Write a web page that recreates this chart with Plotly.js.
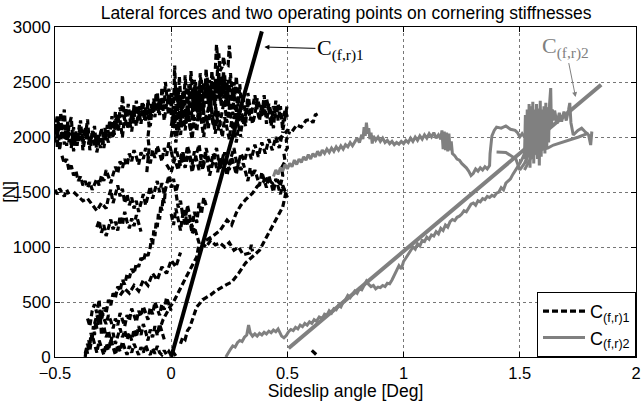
<!DOCTYPE html>
<html><head><meta charset="utf-8">
<script src="https://cdn.plot.ly/plotly-3.0.1.min.js"></script>
<style>html,body{margin:0;padding:0;background:#fff}#chart{width:641px;height:401px}</style>
</head><body><div id="chart"></div>
<script>
// ---------- data ----------
const xTicks = [-0.5, 0, 0.5, 1, 1.5, 2];
const xTickText = ['\u22120.5', '0', '0.5', '1', '1.5', '2'];
const yTicks = [0, 500, 1000, 1500, 2000, 2500, 3000];
const seriesNames = ["C<sub>(f,r)1</sub>", "C<sub>(f,r)2</sub>"];

// C(f,r)1 measured lateral force (black dashed) – several passes
const c1TopLeft = [[-0.5,1950],[-0.495,2120],[-0.49,1900],[-0.485,2180],[-0.48,2050],[-0.475,2220],[-0.47,1980],[-0.465,2100],[-0.46,1930],[-0.455,2060],[-0.45,1990],[-0.445,2150],[-0.44,1950],[-0.435,2040],[-0.43,1900],[-0.425,2010],[-0.42,2090],[-0.415,1960],[-0.41,2030],[-0.405,1920],[-0.40,2000],[-0.395,2110],[-0.39,1970],[-0.385,2070],[-0.38,1940],[-0.375,2010],[-0.37,2090],[-0.365,1980],[-0.36,2040],[-0.355,1930],[-0.35,2000],[-0.345,1960],[-0.34,2060],[-0.335,1990],[-0.33,1910],[-0.325,2000],[-0.32,1940],[-0.315,2030],[-0.31,1960],[-0.305,1900],[-0.30,1990],[-0.295,1930],[-0.29,2040],[-0.285,2080],[-0.28,2000],[-0.275,2110],[-0.27,2030],[-0.265,2150],[-0.26,2070],[-0.255,2190],[-0.25,2100],[-0.245,2020],[-0.24,2160],[-0.235,2080],[-0.23,2200],[-0.225,2130],[-0.22,2270],[-0.215,2180],[-0.21,2380],[-0.205,2230],[-0.20,2150],[-0.195,2260],[-0.19,2180],[-0.185,2300],[-0.18,2210],[-0.175,2120],[-0.17,2240],[-0.165,2160],[-0.16,2290],[-0.155,2200],[-0.15,2330],[-0.145,2240],[-0.14,2150],[-0.135,2280],[-0.13,2190],[-0.125,2320],[-0.12,2230],[-0.115,2150],[-0.11,2270],[-0.105,2200],[-0.10,2340],[-0.095,2250],[-0.09,2180],[-0.085,2300],[-0.08,2220],[-0.075,2350],[-0.07,2260],[-0.065,2400],[-0.06,2300],[-0.055,2220],[-0.05,2360],[-0.045,2280],[-0.04,2450],[-0.035,2330],[-0.03,2260],[-0.025,2500],[-0.02,2380],[-0.015,2300],[-0.01,2440],[-0.005,2350],[0.0,2280]];
const c1TopLeft2 = [[-0.5,2050],[-0.49,2200],[-0.48,1880],[-0.47,2080],[-0.46,2250],[-0.45,1920],[-0.44,2100],[-0.43,2180],[-0.42,1870],[-0.41,2050],[-0.40,1950],[-0.39,2150],[-0.38,1880],[-0.37,2000],[-0.36,2160],[-0.35,1880],[-0.34,1980],[-0.33,2100],[-0.32,1860],[-0.31,1990],[-0.30,2080],[-0.29,1900],[-0.28,2020],[-0.27,1950],[-0.26,2100],[-0.25,1990],[-0.24,2230],[-0.23,2050],[-0.22,2150],[-0.21,2000],[-0.20,2200],[-0.19,2080],[-0.18,2150],[-0.17,2050],[-0.16,2220],[-0.15,2100],[-0.14,2250],[-0.13,2120],[-0.12,2300],[-0.11,2150],[-0.10,2250],[-0.09,2100],[-0.08,2300],[-0.07,2180],[-0.06,2400],[-0.05,2200],[-0.04,2350],[-0.03,2150],[-0.02,2300],[-0.01,2200],[0.0,2400]];
const c1TopCloud = [[0.0,2200],[0.005,2400],[0.01,2250],[0.015,2650],[0.02,2330],[0.025,2450],[0.03,2280],[0.035,2550],[0.04,2380],[0.045,2200],[0.05,2420],[0.055,2300],[0.06,2560],[0.065,2400],[0.07,2250],[0.075,2480],[0.08,2340],[0.085,2600],[0.09,2420],[0.095,2300],[0.10,2520],[0.105,2380],[0.11,2250],[0.115,2460],[0.12,2350],[0.125,2580],[0.13,2400],[0.135,2280],[0.14,2500],[0.145,2360],[0.15,2620],[0.155,2450],[0.16,2300],[0.165,2520],[0.17,2380],[0.175,2600],[0.18,2440],[0.185,2290],[0.19,2530],[0.195,2400],[0.20,2650],[0.205,2480],[0.21,2330],[0.215,2560],[0.22,2420],[0.225,2600],[0.23,2450],[0.235,2300],[0.24,2500],[0.245,2380],[0.25,2250],[0.255,2440],[0.26,2330],[0.265,2200],[0.27,2400],[0.275,2300],[0.28,2180],[0.285,2360],[0.29,2250],[0.30,2150]];
const c1TopCloud2 = [[0.30,2350],[0.295,2480],[0.29,2300],[0.285,2420],[0.28,2550],[0.275,2380],[0.27,2500],[0.265,2330],[0.26,2460],[0.255,2580],[0.25,2400],[0.245,2520],[0.24,2280],[0.235,2450],[0.23,2560],[0.225,2350],[0.22,2500],[0.215,2280],[0.21,2440],[0.205,2580],[0.20,2350],[0.195,2480],[0.19,2250],[0.185,2420],[0.18,2550],[0.175,2330],[0.17,2470],[0.165,2230],[0.16,2400],[0.155,2540],[0.15,2300],[0.145,2460],[0.14,2200],[0.135,2380],[0.13,2520],[0.125,2260],[0.12,2420],[0.115,2180],[0.11,2360],[0.105,2500],[0.10,2240],[0.095,2400],[0.09,2150],[0.085,2330],[0.08,2460],[0.075,2200],[0.07,2380],[0.065,2120],[0.06,2300],[0.055,2430],[0.05,2170],[0.045,2340],[0.04,2100],[0.035,2270],[0.03,2400],[0.025,2150],[0.02,2300],[0.015,2080],[0.01,2250],[0.005,2120],[0.0,2350]];
const c1TopCloud3 = [[0.0,2100],[0.012,2230],[0.024,2060],[0.036,2190],[0.048,2320],[0.06,2120],[0.072,2260],[0.084,2050],[0.096,2210],[0.108,2340],[0.12,2140],[0.132,2290],[0.144,2080],[0.156,2230],[0.168,2360],[0.18,2100],[0.192,2270],[0.204,2060],[0.216,2200],[0.228,2330],[0.24,2130],[0.252,2280],[0.264,2070],[0.276,2230],[0.288,2100],[0.30,2260],[0.312,2120],[0.324,2250]];
const c1TopCloudLow = [[0.0,2000],[0.01,2150],[0.02,1950],[0.03,2100],[0.04,2020],[0.05,2200],[0.06,2060],[0.07,2250],[0.08,2100],[0.09,1980],[0.10,2180],[0.11,2050],[0.12,2280],[0.13,2120],[0.14,2000],[0.15,2200],[0.16,2080],[0.17,2300],[0.18,2150],[0.19,2030],[0.20,2250],[0.21,2120],[0.22,2000],[0.23,2180],[0.24,2060],[0.25,1980],[0.26,2150],[0.27,2050],[0.28,1950],[0.29,2100],[0.30,2000]];
const c1Spikes = [[0.19,2620],[0.195,2840],[0.2,2700],[0.205,2760],[0.21,2600],[0.22,2640],[0.225,2730],[0.23,2660],[0.245,2650],[0.25,2830],[0.255,2700]];
const c1TopRight = [[0.30,2250],[0.31,2350],[0.32,2200],[0.33,2300],[0.34,2150],[0.35,2280],[0.36,2380],[0.37,2250],[0.38,2150],[0.39,2300],[0.40,2200],[0.41,2350],[0.42,2250],[0.43,2100],[0.44,2280],[0.45,2180],[0.46,2300],[0.47,2200],[0.48,2120],[0.49,2250],[0.50,2180]];
const c1TopRight2 = [[0.30,2050],[0.31,2180],[0.32,2100],[0.33,2400],[0.34,2250],[0.35,2120],[0.36,2200],[0.37,2350],[0.38,2280],[0.39,2180],[0.40,2380],[0.41,2120],[0.42,2300],[0.43,2220],[0.44,2080],[0.45,2330],[0.46,2150],[0.47,2280],[0.48,2060],[0.49,2200],[0.50,2300]];
const c1EdgeLeft = [[-0.5,1520],[-0.49,1480],[-0.48,1530],[-0.47,1500],[-0.46,1460],[-0.45,1520],[-0.44,1480]];
const c1MidLeft = [[-0.47,1830],[-0.46,1760],[-0.45,1800],[-0.44,1700],[-0.43,1740],[-0.42,1650],[-0.41,1690],[-0.40,1600],[-0.39,1640],[-0.38,1560],[-0.37,1600],[-0.36,1540],[-0.35,1590],[-0.34,1520],[-0.33,1570],[-0.32,1620],[-0.31,1560],[-0.30,1650],[-0.29,1600],[-0.28,1700],[-0.27,1640],[-0.26,1580],[-0.25,1660],[-0.24,1730],[-0.23,1670],[-0.22,1780],[-0.21,1720],[-0.20,1800],[-0.19,1740],[-0.18,1850],[-0.17,1780],[-0.16,1880],[-0.15,1820],[-0.14,1750],[-0.13,1860],[-0.12,1800],[-0.11,1900],[-0.10,1830],[-0.09,1760],[-0.08,1880],[-0.07,1810],[-0.06,1920],[-0.05,1850],[-0.04,1780],[-0.03,1900],[-0.02,1830],[-0.01,1950],[0.0,1870]];
const c1MidRight = [[0.0,1870],[0.01,1780],[0.02,1900],[0.03,1820],[0.04,1740],[0.05,1860],[0.06,1780],[0.07,1920],[0.08,1830],[0.09,1750],[0.10,1870],[0.11,1790],[0.12,1700],[0.13,1840],[0.14,1760],[0.15,1900],[0.16,1800],[0.17,1720],[0.18,1850],[0.19,1770],[0.20,1680],[0.21,1820],[0.22,1740],[0.23,1860],[0.24,1780],[0.25,1700],[0.26,1820],[0.27,1740],[0.28,1660],[0.29,1780],[0.30,1700],[0.31,1760],[0.32,1680],[0.33,1600],[0.34,1720],[0.35,1640],[0.36,1700],[0.37,1620],[0.38,1560],[0.39,1680],[0.40,1600],[0.41,1540],[0.42,1650],[0.43,1580],[0.44,1500],[0.45,1620],[0.46,1540],[0.47,1480],[0.48,1560],[0.49,1500],[0.50,1450]];
const c1Mid2 = [[-0.02,1750],[0.0,1680],[0.015,1800],[0.03,1700],[0.045,1850],[0.06,1720],[0.075,1880],[0.09,1680],[0.105,1820],[0.12,1930],[0.135,1700],[0.15,1850],[0.165,1650],[0.18,1780],[0.195,1900],[0.21,1700],[0.225,1840],[0.24,1650],[0.255,1800],[0.27,1900],[0.285,1720],[0.30,1850],[0.315,1780],[0.33,1900],[0.345,1800],[0.36,1930],[0.375,1820],[0.39,1950],[0.405,1850],[0.42,1980],[0.435,1880],[0.45,2000],[0.465,1900],[0.48,2050]];
const c1Vertical = [[-0.105,1680],[-0.10,1800],[-0.095,1900],[-0.10,2000],[-0.095,2100],[-0.1,2200]];
const c1RiseRight = [[0.46,1980],[0.48,2010],[0.50,2060],[0.52,2050],[0.54,2110],[0.56,2090],[0.58,2150],[0.60,2160],[0.61,2130],[0.62,2200],[0.63,2210]];
const c1AtHalf = [[0.47,1560],[0.48,1650],[0.475,1720],[0.49,1780],[0.485,1850],[0.5,1900],[0.495,1970],[0.51,2050]];
const c1LowOuter = [[-0.37,0],[-0.365,80],[-0.36,30],[-0.355,150],[-0.35,100],[-0.345,220],[-0.34,160],[-0.335,280],[-0.33,200],[-0.325,320],[-0.32,260],[-0.31,380],[-0.30,330],[-0.29,450],[-0.28,400],[-0.27,520],[-0.26,470],[-0.25,580],[-0.24,540],[-0.23,640],[-0.22,600],[-0.21,700],[-0.20,660],[-0.19,750],[-0.18,720],[-0.17,800],[-0.16,760],[-0.15,850],[-0.14,820],[-0.13,900],[-0.12,870],[-0.11,950],[-0.10,920],[-0.09,1000],[-0.085,1080],[-0.08,1020],[-0.075,1150],[-0.07,1100],[-0.065,1220],[-0.06,1180],[-0.055,1300],[-0.05,1250],[-0.045,1380],[-0.04,1330],[-0.035,1450],[-0.03,1400],[-0.025,1520]];
const c1LowBottom = [[-0.37,30],[-0.36,120],[-0.35,60],[-0.34,200],[-0.33,120],[-0.32,40],[-0.31,150],[-0.30,80],[-0.29,20],[-0.28,120],[-0.27,60],[-0.26,160],[-0.25,90],[-0.24,20],[-0.23,110],[-0.22,50],[-0.21,140],[-0.20,70],[-0.19,20],[-0.18,100],[-0.17,40],[-0.16,120],[-0.15,60],[-0.14,20],[-0.13,90],[-0.12,40],[-0.11,110],[-0.10,50],[-0.09,20],[-0.08,80],[-0.07,30],[-0.06,100],[-0.05,40],[-0.04,20],[-0.03,60],[-0.02,20],[-0.01,50],[0.0,15],[0.01,40],[0.02,10]];
const c1LowExtra = [[-0.36,350],[-0.35,280],[-0.34,420],[-0.33,480],[-0.32,400],[-0.31,520],[-0.30,200],[-0.29,280],[-0.28,180],[-0.27,240],[-0.26,140],[-0.25,220],[-0.24,120],[-0.23,200],[-0.22,260],[-0.21,180],[-0.20,240],[-0.19,160],[-0.18,220],[-0.17,150],[-0.16,250],[-0.15,180],[-0.14,280],[-0.13,200],[-0.12,300],[-0.11,230],[-0.10,150],[-0.09,250],[-0.08,180],[-0.07,280],[-0.06,200],[-0.05,300],[-0.04,230],[-0.03,160]];
const c1LowMid = [[-0.33,300],[-0.32,380],[-0.31,320],[-0.30,420],[-0.29,350],[-0.28,300],[-0.27,380],[-0.26,330],[-0.25,260],[-0.24,350],[-0.23,290],[-0.22,400],[-0.21,340],[-0.20,280],[-0.19,380],[-0.18,330],[-0.17,440],[-0.16,380],[-0.15,320],[-0.14,420],[-0.13,370],[-0.12,460],[-0.11,400],[-0.10,340],[-0.09,450],[-0.08,390],[-0.07,500],[-0.06,440],[-0.05,380],[-0.04,480],[-0.03,430],[-0.02,540],[-0.01,480],[0.0,420]];
const c1LowMid2 = [[-0.22,560],[-0.20,620],[-0.18,580],[-0.16,650],[-0.14,600],[-0.12,700],[-0.10,650],[-0.08,760],[-0.06,700],[-0.04,820],[-0.02,760],[0.0,880],[0.02,820],[0.04,950]];
const c1NearLine = [[-0.06,220],[-0.045,280],[-0.035,340],[-0.02,400],[-0.005,455],[0.01,500],[0.02,545],[0.035,600],[0.05,670],[0.065,730],[0.08,790],[0.095,850],[0.11,910],[0.12,1036],[0.11,1100],[0.1,1180],[0.09,1120],[0.08,1250],[0.07,1200],[0.06,1350],[0.05,1280],[0.04,1420],[0.03,1360],[0.02,1500]];
const c1BlobLeft = [[-0.32,1180],[-0.31,1240],[-0.30,1130],[-0.29,1200],[-0.28,1100],[-0.27,1190],[-0.26,1250],[-0.25,1160],[-0.24,1230],[-0.23,1150],[-0.22,1280],[-0.21,1200],[-0.20,1320],[-0.19,1230],[-0.18,1170],[-0.17,1260],[-0.16,1190],[-0.15,1290],[-0.14,1210],[-0.13,1140]];
const c1UpperLow = [[-0.42,1500],[-0.40,1460],[-0.38,1420],[-0.36,1440],[-0.34,1380],[-0.32,1330],[-0.30,1400],[-0.28,1350],[-0.27,1450],[-0.26,1520],[-0.25,1400],[-0.24,1480],[-0.23,1560],[-0.22,1460],[-0.21,1530],[-0.20,1400],[-0.19,1480],[-0.18,1380],[-0.17,1450],[-0.16,1350],[-0.15,1420],[-0.14,1320],[-0.13,1400],[-0.12,1480],[-0.11,1380],[-0.10,1460],[-0.09,1550],[-0.08,1440],[-0.07,1520],[-0.06,1600],[-0.05,1500],[-0.04,1580],[-0.03,1480],[-0.02,1560],[-0.01,1650],[0.0,1540],[0.01,1620],[0.02,1500],[0.03,1580]];
const c1RightLow = [[0.0,1300],[0.01,1200],[0.02,1350],[0.03,1250],[0.04,1150],[0.05,1300],[0.06,1200],[0.07,1380],[0.08,1280],[0.09,1180],[0.10,1320],[0.11,1220],[0.12,1400],[0.13,1300],[0.14,1450],[0.15,1380]];
const c1Diagonal = [[0.04,120],[0.05,180],[0.06,160],[0.07,240],[0.08,270],[0.09,330],[0.10,390],[0.11,455],[0.12,480],[0.135,520],[0.15,540],[0.17,565],[0.19,600],[0.22,640],[0.24,660],[0.26,680],[0.29,760],[0.32,855],[0.35,910],[0.38,970],[0.40,1050],[0.42,1130],[0.45,1245],[0.48,1364],[0.496,1520]];
const c1Branch = [[0.13,1040],[0.15,1000],[0.17,1060],[0.19,1020],[0.21,1036],[0.23,1000],[0.25,1040],[0.27,970],[0.29,1000],[0.31,930],[0.337,945],[0.345,1020],[0.35,960]];
const c1BranchUp = [[0.15,1060],[0.18,1100],[0.21,1150],[0.24,1245],[0.26,1200],[0.28,1310],[0.30,1380],[0.32,1430],[0.35,1490],[0.37,1550],[0.39,1580],[0.41,1620],[0.42,1610],[0.44,1570],[0.46,1600],[0.48,1545],[0.50,1480]];
const c1Stray = [[0.605,60],[0.615,40],[0.625,20]];

// C(f,r)2 measured lateral force (grey solid)
const c2Lower = [[0.235,0],[0.245,40],[0.255,70],[0.265,100],[0.275,90],[0.285,130],[0.295,150],[0.305,140],[0.315,180],[0.325,200],[0.333,290],[0.34,220],[0.35,190],[0.36,210],[0.37,190],[0.38,215],[0.39,200],[0.40,225],[0.41,210],[0.42,235],[0.43,220],[0.44,245],[0.45,230],[0.46,255],[0.468,220],[0.475,190],[0.485,175],[0.495,195],[0.505,230],[0.515,250],[0.525,240],[0.535,270],[0.545,255],[0.555,290],[0.565,275],[0.575,305],[0.585,290],[0.595,320],[0.605,305],[0.615,340],[0.625,325],[0.637,364],[0.65,350],[0.66,390],[0.67,380],[0.68,420],[0.69,400],[0.70,440],[0.71,430],[0.72,470],[0.73,455],[0.74,500],[0.75,520],[0.76,560],[0.77,540],[0.78,575],[0.79,600],[0.80,580],[0.81,620],[0.82,610],[0.83,650],[0.84,690],[0.85,660],[0.86,640],[0.87,650],[0.88,620],[0.89,635],[0.90,630],[0.91,650],[0.92,640],[0.93,670],[0.94,665],[0.95,700],[0.96,740],[0.97,780],[0.98,830],[0.99,800],[1.00,870],[1.01,900],[1.02,930],[1.03,960],[1.04,1000],[1.05,980],[1.06,1030],[1.07,1010],[1.08,1060],[1.09,1050],[1.10,1090],[1.11,1070],[1.12,1110],[1.13,1100],[1.14,1140],[1.15,1120],[1.16,1170],[1.17,1150],[1.18,1200],[1.19,1180],[1.20,1230],[1.21,1250],[1.22,1240],[1.23,1270],[1.24,1280],[1.25,1300],[1.26,1330],[1.27,1320],[1.28,1360],[1.29,1390],[1.30,1400],[1.31,1380],[1.32,1420],[1.33,1410],[1.34,1440],[1.35,1430],[1.36,1460],[1.37,1450],[1.38,1470],[1.39,1460],[1.40,1490],[1.41,1500],[1.42,1540],[1.43,1520],[1.44,1580],[1.45,1600],[1.46,1620],[1.47,1660],[1.48,1690],[1.49,1720],[1.50,1760],[1.51,1800],[1.52,1850],[1.53,1880],[1.54,1950],[1.55,2000],[1.56,2050],[1.58,2150],[1.60,2200],[1.62,2270]];
const c2Upper = [[0.44,1640],[0.45,1700],[0.46,1660],[0.47,1720],[0.48,1690],[0.49,1750],[0.50,1710],[0.51,1760],[0.52,1730],[0.53,1790],[0.54,1750],[0.55,1800],[0.56,1770],[0.57,1820],[0.58,1790],[0.59,1840],[0.60,1800],[0.61,1850],[0.62,1820],[0.63,1870],[0.64,1830],[0.65,1880],[0.66,1850],[0.67,1890],[0.68,1860],[0.69,1900],[0.70,1870],[0.71,1910],[0.72,1880],[0.73,1920],[0.74,1890],[0.75,1930],[0.76,1910],[0.77,1950],[0.78,1920],[0.79,1960],[0.80,1990],[0.81,1950],[0.82,2020],[0.825,1980],[0.83,2090],[0.835,2010],[0.84,2130],[0.845,2030],[0.85,2080],[0.855,1980],[0.86,2040],[0.865,1940],[0.87,2010],[0.88,1970],[0.89,2000],[0.90,1960],[0.91,1990],[0.92,1950],[0.93,1970],[0.94,1940],[0.95,1960],[0.96,1930],[0.97,1950],[0.98,1935],[0.99,1960],[1.00,1940],[1.01,1970],[1.02,1950],[1.03,1990],[1.04,1960],[1.05,2000],[1.06,1970],[1.07,2010],[1.08,1980],[1.09,2020],[1.10,1990],[1.11,2030],[1.12,2000],[1.13,2040],[1.14,1990],[1.15,2020],[1.16,1980],[1.165,2060],[1.17,1890],[1.175,2050],[1.18,1880],[1.185,2040],[1.19,1870],[1.195,2030],[1.20,1880],[1.205,1960],[1.21,1850],[1.22,1830],[1.23,1800],[1.24,1790],[1.25,1760],[1.26,1740],[1.27,1720],[1.28,1690],[1.29,1650],[1.30,1670],[1.31,1710],[1.32,1690],[1.33,1720],[1.34,1700],[1.35,1730],[1.36,1710],[1.37,1740],[1.372,1850],[1.375,1950],[1.38,2010],[1.39,2060],[1.40,2090],[1.42,2080],[1.44,2100],[1.46,2070],[1.48,2060],[1.49,2040],[1.50,2000],[1.51,2030],[1.52,2000]];
const c2Block = [[1.52,1800],[1.524,2200],[1.528,1760],[1.532,2250],[1.536,1820],[1.54,2300],[1.544,1720],[1.548,2280],[1.552,1800],[1.556,2320],[1.56,1760],[1.564,2250],[1.568,1850],[1.572,2300],[1.576,1800],[1.58,2260],[1.584,1740],[1.588,2330],[1.592,1820],[1.596,2250],[1.60,1900],[1.604,2280],[1.608,1850],[1.612,2310],[1.616,1900],[1.62,2260],[1.624,1950],[1.628,2300],[1.633,2445],[1.636,2100],[1.64,2250],[1.645,2150],[1.65,2240],[1.66,2120],[1.67,2220],[1.68,2140],[1.69,2230],[1.70,2150],[1.71,2250],[1.715,2310],[1.72,2130],[1.73,2018],[1.75,2060],[1.766,2080],[1.78,2050],[1.796,2018],[1.805,1927],[1.81,2050]];
const c2RightLow = [[1.52,1700],[1.55,1820],[1.58,1880],[1.62,1900],[1.645,1927],[1.68,1950],[1.71,1973],[1.753,2000],[1.796,2036]];
const c2Inner = [[1.40,1864],[1.44,1860],[1.483,1800],[1.50,1700],[1.52,1760],[1.55,1900],[1.58,1980]];

// operating-point lines (cornering stiffness fits)
const fit1X = [0, 0.39];
const fit1Y = [0, 2960];
const fit2X = [0.505, 1.85];
const fit2Y = [80, 2475];

// ---------- build traces ----------
function joinSegments(segs) {
  const x = [], y = [];
  segs.forEach((s, i) => {
    if (i > 0) { x.push(null); y.push(null); }
    s.forEach(p => { x.push(p[0]); y.push(p[1]); });
  });
  return {x, y};
}
const blk = joinSegments([c1TopLeft, c1TopLeft2, c1TopCloud, c1TopCloud2, c1TopCloud3, c1TopCloudLow, c1Spikes, c1TopRight, c1TopRight2, c1EdgeLeft, c1MidLeft, c1MidRight, c1Mid2, c1Vertical, c1RiseRight, c1AtHalf, c1LowOuter, c1LowBottom, c1LowExtra, c1LowMid, c1LowMid2, c1NearLine, c1BlobLeft, c1UpperLow, c1RightLow, c1Diagonal, c1Branch, c1BranchUp, c1Stray]);
const gry = joinSegments([c2Lower, c2Upper, c2Block, c2RightLow, c2Inner]);

const GREY = '#808080';
const traces = [
  {x: blk.x, y: blk.y, type: 'scatter', mode: 'lines', name: seriesNames[0],
   line: {color: '#000', width: 3.2, dash: '6px,3px'}},
  {x: gry.x, y: gry.y, type: 'scatter', mode: 'lines', name: seriesNames[1],
   line: {color: GREY, width: 3}},
  {x: fit1X, y: fit1Y, type: 'scatter', mode: 'lines', showlegend: false,
   line: {color: '#000', width: 4}},
  {x: fit2X, y: fit2Y, type: 'scatter', mode: 'lines', showlegend: false,
   line: {color: GREY, width: 4}}
];

const axisCommon = {
  showline: true, linecolor: '#000', linewidth: 1, mirror: 'ticks',
  ticks: 'inside', ticklen: 5, tickcolor: '#000',
  showgrid: true, gridcolor: '#777', griddash: 'dot', gridwidth: 1,
  zeroline: false, tickfont: {size: 17, color: '#000'}
};
const layout = {
  width: 641, height: 401,
  margin: {l: 55, r: 5, t: 27, b: 44},
  paper_bgcolor: '#fff', plot_bgcolor: '#fff',
  font: {family: 'Liberation Sans, Arial, sans-serif', color: '#000'},
  title: {text: 'Lateral forces and two operating points on cornering stiffnesses',
          font: {size: 17.5, color: '#000'}, x: 0.54, xanchor: 'center', y: 0.968, yanchor: 'middle'},
  xaxis: Object.assign({}, axisCommon, {range: [-0.5, 2], tickvals: xTicks, ticktext: xTickText,
          ticklabelstandoff: 1, tickfont: {size: 16.5, color: '#000'},
          title: {text: 'Sideslip angle [Deg]', font: {size: 17.5}, standoff: 3}}),
  yaxis: Object.assign({}, axisCommon, {range: [0, 3000], tickvals: yTicks,
          title: {text: '[N]', font: {size: 17}, standoff: 2}}),
  showlegend: true,
  legend: {x: 1, y: 0, xanchor: 'right', yanchor: 'bottom', bgcolor: '#fff',
           bordercolor: '#000', borderwidth: 1, font: {size: 18, color: '#000'},
           itemwidth: 42, tracegroupgap: 0},
  annotations: [
    {x: 0.401, y: 2818, xref: 'x', yref: 'y', text: 'C<sub>(f,r)1</sub>',
     showarrow: true, ax: 76, ay: 2, arrowhead: 2, arrowsize: 1, arrowwidth: 1, arrowcolor: '#000',
     font: {family: 'Liberation Serif, Times New Roman, serif', size: 22, color: '#000'}},
    {x: 1.74, y: 2363, xref: 'x', yref: 'y', text: 'C<sub>(f,r)2</sub>',
     showarrow: true, ax: -10, ay: -50, arrowhead: 2, arrowsize: 1, arrowwidth: 1, arrowcolor: GREY,
     font: {family: 'Liberation Serif, Times New Roman, serif', size: 22, color: GREY}}
  ]
};
Plotly.newPlot('chart', traces, layout, {displayModeBar: false, staticPlot: true});
</script></body></html>
